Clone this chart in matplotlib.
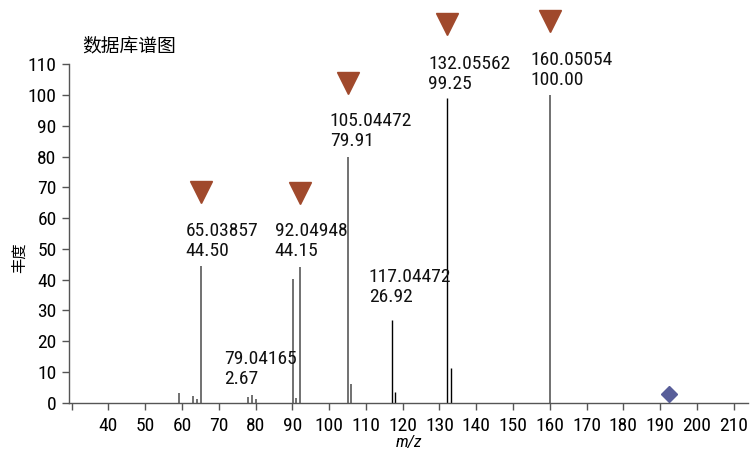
import matplotlib
matplotlib.use("Agg")
import matplotlib.pyplot as plt

plt.rcParams['font.family'] = ['Roboto Condensed', 'Noto Sans CJK SC', 'DejaVu Sans']

# spectrum peaks (m/z, abundance)
mz = [59.05, 63.02, 64.03, 65.03857, 78.03, 79.04165, 80.05, 90.05, 91.05,
      92.04948, 105.04472, 106.05, 117.04472, 118.05, 132.05562, 133.06, 160.05054]
abundance = [3.1, 2.2, 1.3, 44.50, 2.0, 2.67, 1.3, 40.1, 1.4,
             44.15, 79.91, 6.1, 26.92, 3.6, 99.25, 11.2, 100.00]
# peaks drawn in black, the rest in grey
dark_peaks = [117.04472, 118.05, 132.05562, 133.06]

# annotated peaks
labeled_mz = [65.03857, 79.04165, 92.04948, 105.04472, 117.04472, 132.05562, 160.05054]
labeled_ab = [44.50, 2.67, 44.15, 79.91, 26.92, 99.25, 100.00]
# label placement in pixels relative to peak top (last line baseline)
label_dx = [-15, -28, -25, -18, -23, -19, -20]
label_dy = [10, 11, 11, 11, 18, 9, 10]

# matched peaks get a marker above the label
marked_mz = [65.03857, 92.04948, 105.04472, 132.05562, 160.05054]
marked_ab = [44.50, 44.15, 79.91, 99.25, 100.00]

precursor_mz = 192.4
precursor_y = 2.8

fig = plt.figure(figsize=(7.51, 4.51), dpi=100)
ax = fig.add_axes([0.092, 0.107, 0.904, 0.750])

for x, y in zip(mz, abundance):
    if x in dark_peaks:
        ax.vlines(x, 0, y, color='black', lw=1.0)
    else:
        ax.vlines(x, 0, y, color='#666666', lw=1.3)

for x, y, dx, dy in zip(labeled_mz, labeled_ab, label_dx, label_dy):
    ax.annotate(f"{x:.5f}\n{y:.2f}", xy=(x, y), xytext=(dx, dy),
                textcoords='offset pixels', ha='left', va='baseline',
                fontsize=14, linespacing=1.13, color='#111111',
                annotation_clip=False)

ax.plot(marked_mz, [v + 24 for v in marked_ab], linestyle='none', marker='v',
        markersize=16, color='#a0492c', clip_on=False)
ax.plot([precursor_mz], [precursor_y], linestyle='none', marker='D',
        markersize=8, color='#585e99', clip_on=False)

ax.set_xlim(29.3, 213.9)
ax.set_ylim(0, 110)
ax.set_xticks(range(30, 211, 10))
ax.set_xticklabels([''] + [str(v) for v in range(40, 211, 10)])
ax.set_yticks(range(0, 111, 10))

for side in ('top', 'right'):
    ax.spines[side].set_visible(False)
for side in ('left', 'bottom'):
    ax.spines[side].set_color('#555555')
    ax.spines[side].set_linewidth(1.0)
ax.tick_params(length=5, width=1.0, color='#555555', labelsize=14)
ax.tick_params(axis='x', pad=5)
ax.tick_params(axis='y', pad=4)

ax.set_xlabel('m/z', style='italic', fontsize=12.5, labelpad=0)
ax.set_ylabel('丰度', fontsize=11)
ax.yaxis.set_label_coords(-0.062, 0.43)
fig.text(0.11, 0.897, '数据库谱图', fontsize=13.5, ha='left', va='center')

fig.savefig('out.png', dpi=100)
